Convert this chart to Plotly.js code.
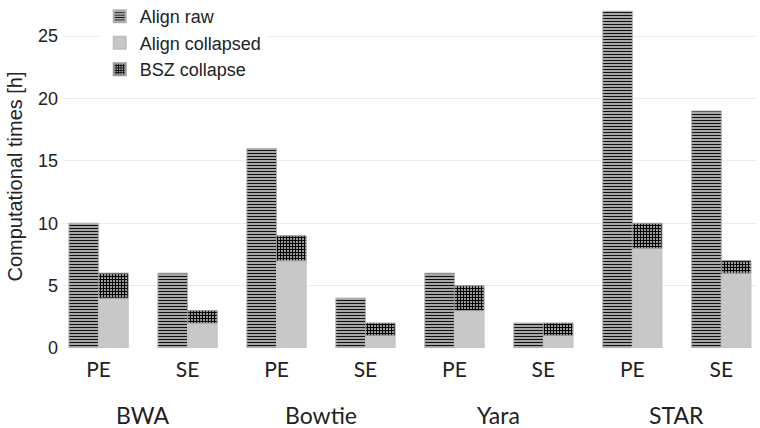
<!DOCTYPE html>
<html>
<head>
<meta charset="utf-8">
<script src="https://cdn.plot.ly/plotly-3.0.1.min.js"></script>
<style>html,body{margin:0;padding:0;background:#fff;}#chart{width:760px;height:428px;}</style>
</head>
<body>
<div id="chart"></div>
<script>
const aligners = ["BWA", "Bowtie", "Yara", "STAR"];
const readTypes = ["PE", "SE"];
const alignRaw = [10, 6, 16, 4, 6, 2, 27, 19];
const alignCollapsed = [4, 2, 7, 1, 3, 1, 8, 6];
const bszCollapse = [2, 1, 2, 1, 2, 1, 2, 1];

const cats = [];
const tickText = [];
aligners.forEach(a => readTypes.forEach(r => { cats.push(a + " " + r); tickText.push(r); }));

const W = 0.333;
const traces = [
  {
    type: "bar", name: "Align raw", x: cats, y: alignRaw,
    offset: -W, width: W,
    marker: { color: "#d0d0d0", line: { color: "#b0b0b0", width: 1 },
      pattern: { shape: "-", fgcolor: "#111", bgcolor: "#d8d8d8", size: 3, solidity: 0.5 } }
  },
  {
    type: "bar", name: "Align collapsed", x: cats, y: alignCollapsed,
    offset: 0, width: W,
    marker: { color: "#c8c8c8", line: { color: "#c0c0c0", width: 1 } }
  },
  {
    type: "bar", name: "BSZ collapse", x: cats, y: bszCollapse,
    base: alignCollapsed, offset: 0, width: W,
    marker: { color: "#333", line: { color: "#999", width: 1 },
      pattern: { shape: "+", fgcolor: "#000", bgcolor: "#9a9a9a", size: 3, solidity: 0.55 } }
  }
];

const annotations = aligners.map((a, i) => ({
  text: a, x: i * 2 + 0.5, xref: "x", y: -0.195, yref: "paper",
  xanchor: "center", yanchor: "middle", showarrow: false,
  font: { family: "Lato, 'Open Sans', sans-serif", size: 23, color: "#222" }
}));

const layout = {
  width: 760, height: 428,
  margin: { l: 63, r: 4, t: 5, b: 80, autoexpand: false },
  paper_bgcolor: "#fff", plot_bgcolor: "#fff",
  barmode: "overlay",
  font: { family: "'Liberation Sans', Arial, sans-serif", color: "#222" },
  showlegend: true,
  legend: {
    x: 0.053, y: 1.02, xanchor: "left", yanchor: "top",
    bgcolor: "#fff", font: { size: 18, color: "#222" },
    tracegroupgap: 0, itemsizing: "constant"
  },
  xaxis: {
    type: "category", range: [-0.4, 7.39],
    tickvals: cats, ticktext: tickText,
    tickfont: { family: "Lato, 'Open Sans', sans-serif", size: 21, color: "#222" },
    showgrid: false, zeroline: false, showline: false, ticks: "",
    ticklabelstandoff: 7
  },
  yaxis: {
    range: [0, 27.5], dtick: 5, tick0: 0,
    showgrid: true, gridcolor: "#ececec", gridwidth: 1,
    zeroline: false, showline: false, ticks: "",
    ticklabelstandoff: 4,
    tickfont: { size: 18, color: "#222" },
    title: { text: "Computational times [h]", font: { size: 20, color: "#222" }, standoff: 9 }
  },
  annotations: annotations
};

Plotly.newPlot("chart", traces, layout, { displayModeBar: false, staticPlot: true });
</script>
</body>
</html>
